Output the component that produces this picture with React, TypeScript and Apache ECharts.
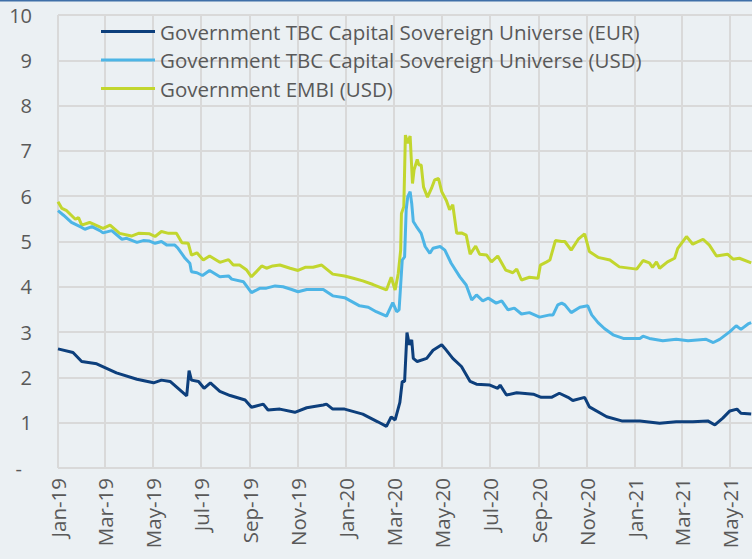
import React, { useEffect, useRef } from "react";
import * as echarts from "echarts";

// ---- data ----
const seriesNames = [
  "Government TBC Capital Sovereign Universe (EUR)",
  "Government TBC Capital Sovereign Universe (USD)",
  "Government EMBI (USD)",
];

const xTickLabels = [
  "Jan-19", "Mar-19", "May-19", "Jul-19", "Sep-19", "Nov-19",
  "Jan-20", "Mar-20", "May-20", "Jul-20", "Sep-20", "Nov-20",
  "Jan-21", "Mar-21", "May-21",
];

const yTickValues = [0, 1, 2, 3, 4, 5, 6, 7, 8, 9, 10];

const xStart = "2019-01-01";
const xEnd = "2021-05-29";

const eurSeries: [string, number][] = [
  ["2019-01-01", 2.63], ["2019-01-20", 2.55], ["2019-01-31", 2.35], ["2019-02-19", 2.30],
  ["2019-03-16", 2.10], ["2019-04-11", 1.96], ["2019-05-02", 1.88], ["2019-05-12", 1.94],
  ["2019-05-23", 1.91], ["2019-06-13", 1.59], ["2019-06-16", 2.15], ["2019-06-19", 1.94],
  ["2019-06-28", 1.91], ["2019-07-05", 1.76], ["2019-07-13", 1.88], ["2019-07-25", 1.69],
  ["2019-08-07", 1.60], ["2019-08-26", 1.50], ["2019-09-03", 1.34], ["2019-09-18", 1.41],
  ["2019-09-24", 1.28], ["2019-10-09", 1.30], ["2019-10-28", 1.23], ["2019-11-12", 1.33],
  ["2019-12-03", 1.39], ["2019-12-07", 1.41], ["2019-12-15", 1.30], ["2019-12-30", 1.30],
  ["2020-01-22", 1.19], ["2020-02-10", 1.02], ["2020-02-21", 0.92], ["2020-02-27", 1.13],
  ["2020-03-03", 1.06], ["2020-03-09", 1.45], ["2020-03-12", 1.91], ["2020-03-15", 1.91],
  ["2020-03-18", 2.99], ["2020-03-21", 2.72], ["2020-03-24", 2.83], ["2020-03-26", 2.42],
  ["2020-03-31", 2.35], ["2020-04-12", 2.42], ["2020-04-20", 2.60], ["2020-05-01", 2.72],
  ["2020-05-05", 2.64], ["2020-05-15", 2.42], ["2020-05-26", 2.24], ["2020-06-06", 1.91],
  ["2020-06-14", 1.85], ["2020-07-01", 1.83], ["2020-07-11", 1.76], ["2020-07-14", 1.83],
  ["2020-07-22", 1.61], ["2020-08-04", 1.66], ["2020-08-25", 1.63], ["2020-09-04", 1.56],
  ["2020-09-17", 1.56], ["2020-09-27", 1.65], ["2020-10-08", 1.56], ["2020-10-14", 1.49],
  ["2020-10-29", 1.56], ["2020-11-04", 1.35], ["2020-11-26", 1.13], ["2020-12-15", 1.04],
  ["2021-01-07", 1.04], ["2021-02-01", 0.99], ["2021-02-22", 1.02], ["2021-03-15", 1.02],
  ["2021-04-03", 1.04], ["2021-04-12", 0.95], ["2021-04-22", 1.10], ["2021-05-01", 1.26],
  ["2021-05-10", 1.30], ["2021-05-15", 1.21], ["2021-05-28", 1.19],
];

const usdSeries: [string, number][] = [
  ["2019-01-01", 5.68], ["2019-01-08", 5.58], ["2019-01-18", 5.42], ["2019-01-31", 5.31],
  ["2019-02-04", 5.27], ["2019-02-13", 5.33], ["2019-02-23", 5.24], ["2019-02-27", 5.19],
  ["2019-03-10", 5.24], ["2019-03-23", 5.05], ["2019-03-29", 5.07], ["2019-04-11", 4.98],
  ["2019-04-19", 5.02], ["2019-04-27", 5.01], ["2019-05-04", 4.96], ["2019-05-12", 5.00],
  ["2019-05-19", 4.92], ["2019-05-29", 4.92], ["2019-06-02", 4.85], ["2019-06-11", 4.63],
  ["2019-06-17", 4.52], ["2019-06-19", 4.33], ["2019-06-26", 4.31], ["2019-07-03", 4.25],
  ["2019-07-12", 4.36], ["2019-07-25", 4.22], ["2019-08-05", 4.24], ["2019-08-09", 4.17],
  ["2019-08-24", 4.11], ["2019-09-03", 3.87], ["2019-09-14", 3.97], ["2019-09-22", 3.97],
  ["2019-10-03", 4.02], ["2019-10-13", 4.00], ["2019-10-24", 3.94], ["2019-11-01", 3.89],
  ["2019-11-12", 3.94], ["2019-12-03", 3.94], ["2019-12-15", 3.80], ["2019-12-30", 3.76],
  ["2020-01-18", 3.58], ["2020-01-29", 3.55], ["2020-02-08", 3.45], ["2020-02-21", 3.35],
  ["2020-02-29", 3.65], ["2020-03-05", 3.45], ["2020-03-08", 3.49], ["2020-03-12", 4.59],
  ["2020-03-15", 4.66], ["2020-03-17", 5.70], ["2020-03-19", 5.99], ["2020-03-22", 6.10],
  ["2020-03-24", 5.84], ["2020-03-26", 5.44], ["2020-03-30", 5.33], ["2020-04-05", 5.18],
  ["2020-04-10", 4.89], ["2020-04-16", 4.74], ["2020-04-20", 4.85], ["2020-04-29", 4.89],
  ["2020-05-05", 4.81], ["2020-05-13", 4.52], ["2020-05-24", 4.22], ["2020-06-01", 4.04],
  ["2020-06-08", 3.71], ["2020-06-14", 3.82], ["2020-06-22", 3.69], ["2020-06-29", 3.75],
  ["2020-07-09", 3.64], ["2020-07-16", 3.69], ["2020-07-24", 3.49], ["2020-08-01", 3.53],
  ["2020-08-10", 3.40], ["2020-08-20", 3.43], ["2020-09-02", 3.33], ["2020-09-15", 3.38],
  ["2020-09-19", 3.38], ["2020-09-25", 3.60], ["2020-09-30", 3.64], ["2020-10-04", 3.60],
  ["2020-10-12", 3.43], ["2020-10-23", 3.55], ["2020-11-02", 3.58], ["2020-11-07", 3.38],
  ["2020-11-15", 3.21], ["2020-11-23", 3.08], ["2020-12-04", 2.94], ["2020-12-17", 2.86],
  ["2021-01-07", 2.86], ["2021-01-11", 2.91], ["2021-01-19", 2.86], ["2021-02-05", 2.81],
  ["2021-02-22", 2.84], ["2021-03-09", 2.81], ["2021-04-01", 2.84], ["2021-04-10", 2.77],
  ["2021-04-18", 2.84], ["2021-05-01", 3.01], ["2021-05-09", 3.14], ["2021-05-15", 3.06],
  ["2021-05-24", 3.18], ["2021-05-28", 3.21],
];

const embiSeries: [string, number][] = [
  ["2019-01-01", 5.88], ["2019-01-06", 5.73], ["2019-01-12", 5.68], ["2019-01-23", 5.49],
  ["2019-01-27", 5.53], ["2019-01-31", 5.36], ["2019-02-10", 5.42], ["2019-02-27", 5.29],
  ["2019-03-08", 5.36], ["2019-03-20", 5.18], ["2019-04-04", 5.12], ["2019-04-13", 5.18],
  ["2019-04-27", 5.17], ["2019-05-04", 5.11], ["2019-05-12", 5.22], ["2019-05-21", 5.18],
  ["2019-05-31", 5.18], ["2019-06-07", 4.97], ["2019-06-15", 4.96], ["2019-06-19", 4.70],
  ["2019-06-26", 4.75], ["2019-07-04", 4.59], ["2019-07-12", 4.68], ["2019-07-25", 4.54],
  ["2019-08-05", 4.60], ["2019-08-11", 4.48], ["2019-08-19", 4.48], ["2019-08-28", 4.37],
  ["2019-09-03", 4.22], ["2019-09-09", 4.33], ["2019-09-16", 4.46], ["2019-09-22", 4.41],
  ["2019-09-30", 4.46], ["2019-10-09", 4.48], ["2019-10-22", 4.41], ["2019-11-01", 4.36],
  ["2019-11-10", 4.43], ["2019-11-20", 4.43], ["2019-12-01", 4.48], ["2019-12-15", 4.28],
  ["2019-12-30", 4.24], ["2020-01-10", 4.19], ["2020-01-22", 4.13], ["2020-02-04", 4.05],
  ["2020-02-21", 3.93], ["2020-02-27", 4.21], ["2020-03-03", 3.93], ["2020-03-07", 4.30],
  ["2020-03-10", 4.81], ["2020-03-11", 5.62], ["2020-03-14", 5.77], ["2020-03-16", 7.35],
  ["2020-03-19", 7.17], ["2020-03-22", 7.33], ["2020-03-25", 6.28], ["2020-03-27", 6.58],
  ["2020-03-31", 6.81], ["2020-04-02", 6.69], ["2020-04-05", 6.69], ["2020-04-08", 6.20],
  ["2020-04-13", 5.98], ["2020-04-18", 6.17], ["2020-04-22", 6.36], ["2020-04-27", 6.39],
  ["2020-05-01", 6.10], ["2020-05-07", 5.90], ["2020-05-11", 5.70], ["2020-05-15", 5.81],
  ["2020-05-20", 5.18], ["2020-05-26", 5.19], ["2020-06-01", 5.14], ["2020-06-06", 4.72],
  ["2020-06-13", 4.90], ["2020-06-18", 4.72], ["2020-06-27", 4.70], ["2020-07-03", 4.55],
  ["2020-07-11", 4.68], ["2020-07-21", 4.37], ["2020-07-30", 4.31], ["2020-08-04", 4.39],
  ["2020-08-10", 4.15], ["2020-08-20", 4.21], ["2020-08-31", 4.19], ["2020-09-03", 4.48],
  ["2020-09-11", 4.55], ["2020-09-15", 4.59], ["2020-09-22", 5.02], ["2020-09-30", 5.00],
  ["2020-10-04", 5.00], ["2020-10-12", 4.81], ["2020-10-21", 5.05], ["2020-10-29", 5.17],
  ["2020-11-04", 4.78], ["2020-11-15", 4.65], ["2020-11-30", 4.59], ["2020-12-12", 4.44],
  ["2021-01-03", 4.39], ["2021-01-11", 4.58], ["2021-01-19", 4.53], ["2021-01-23", 4.43],
  ["2021-01-28", 4.55], ["2021-02-01", 4.41], ["2021-02-11", 4.55], ["2021-02-20", 4.63],
  ["2021-02-24", 4.85], ["2021-03-07", 5.11], ["2021-03-15", 4.94], ["2021-03-28", 5.05],
  ["2021-04-05", 4.92], ["2021-04-14", 4.68], ["2021-04-28", 4.72], ["2021-05-05", 4.61],
  ["2021-05-13", 4.63], ["2021-05-28", 4.53],
];

// ---- helpers ----
const MONTHS = ["Jan", "Feb", "Mar", "Apr", "May", "Jun", "Jul", "Aug", "Sep", "Oct", "Nov", "Dec"];
const toTs = (s: string) => {
  const [y, m, d] = s.split("-").map(Number);
  return Date.UTC(y, m - 1, d);
};
const labelToTs = (l: string) => {
  const [mon, yy] = l.split("-");
  return Date.UTC(2000 + Number(yy), MONTHS.indexOf(mon), 1);
};
const fmtTs = (v: number) => {
  const d = new Date(v);
  return `${MONTHS[d.getUTCMonth()]}-${String(d.getUTCFullYear()).slice(2)}`;
};

const FONT = "'Open Sans', 'Noto Sans', sans-serif";
const TEXT = "#595959";
const GRID = "#D9D9D9";
const colors = ["#0D3F7C", "#4DB5E6", "#C2D62E"];

export default function App() {
  const ref = useRef<HTMLDivElement>(null);
  useEffect(() => {
    if (!ref.current) return;
    const chart = echarts.init(ref.current, undefined, { renderer: "svg" });
    const tickTs = xTickLabels.map(labelToTs);
    const all = [eurSeries, usdSeries, embiSeries];
    chart.setOption({
      animation: false,
      backgroundColor: "#EBF0F3",
      color: colors,
      textStyle: { fontFamily: FONT },
      grid: { left: 58, right: 0, top: 15, bottom: 91, containLabel: false },
      legend: {
        orient: "vertical",
        left: 101,
        top: 21,
        padding: 0,
        icon: "rect",
        itemWidth: 54,
        itemHeight: 3,
        itemGap: 7.5,
        textStyle: { color: TEXT, fontSize: 20.5, fontFamily: FONT },
        data: seriesNames,
      },
      graphic: [
        { type: "rect", left: 0, top: 0, shape: { width: 752, height: 1.5 }, style: { fill: "#3F6FA8" }, silent: true },
      ],
      xAxis: {
        type: "value",
        min: toTs(xStart),
        max: toTs(xEnd),
        axisLine: { show: false },
        axisTick: { show: false, customValues: tickTs },
        splitLine: { show: true, lineStyle: { color: GRID, width: 2 } },
        axisLabel: {
          customValues: tickTs,
          rotate: 90,
          margin: 10,
          color: TEXT,
          fontSize: 20.5,
          fontFamily: FONT,
          formatter: (v: number) => fmtTs(v),
          hideOverlap: false,
        },
      },
      yAxis: {
        type: "value",
        min: yTickValues[0],
        max: yTickValues[yTickValues.length - 1],
        interval: 1,
        axisLine: { show: false },
        axisTick: { show: false },
        splitLine: { show: true, lineStyle: { color: GRID, width: 2 } },
        axisLabel: {
          margin: 26,
          color: TEXT,
          fontSize: 20,
          fontFamily: FONT,
          formatter: (v: number) => (v === 0 ? "{d|-}" : String(v)),
          rich: { d: { color: TEXT, fontSize: 20, fontFamily: FONT, padding: [0, 10, 0, 0] } },
        },
      },
      series: all.map((s, i) => ({
        name: seriesNames[i],
        type: "line",
        showSymbol: false,
        symbol: "none",
        data: s.map(([d, v]) => [toTs(d), v]),
        lineStyle: { width: 3, color: colors[i] },
        itemStyle: { color: colors[i] },
        z: 3 - i,
      })),
    });
    return () => chart.dispose();
  }, []);
  return <div ref={ref} style={{ width: 752, height: 559, position: "absolute", left: 0, top: 0 }} />;
}
